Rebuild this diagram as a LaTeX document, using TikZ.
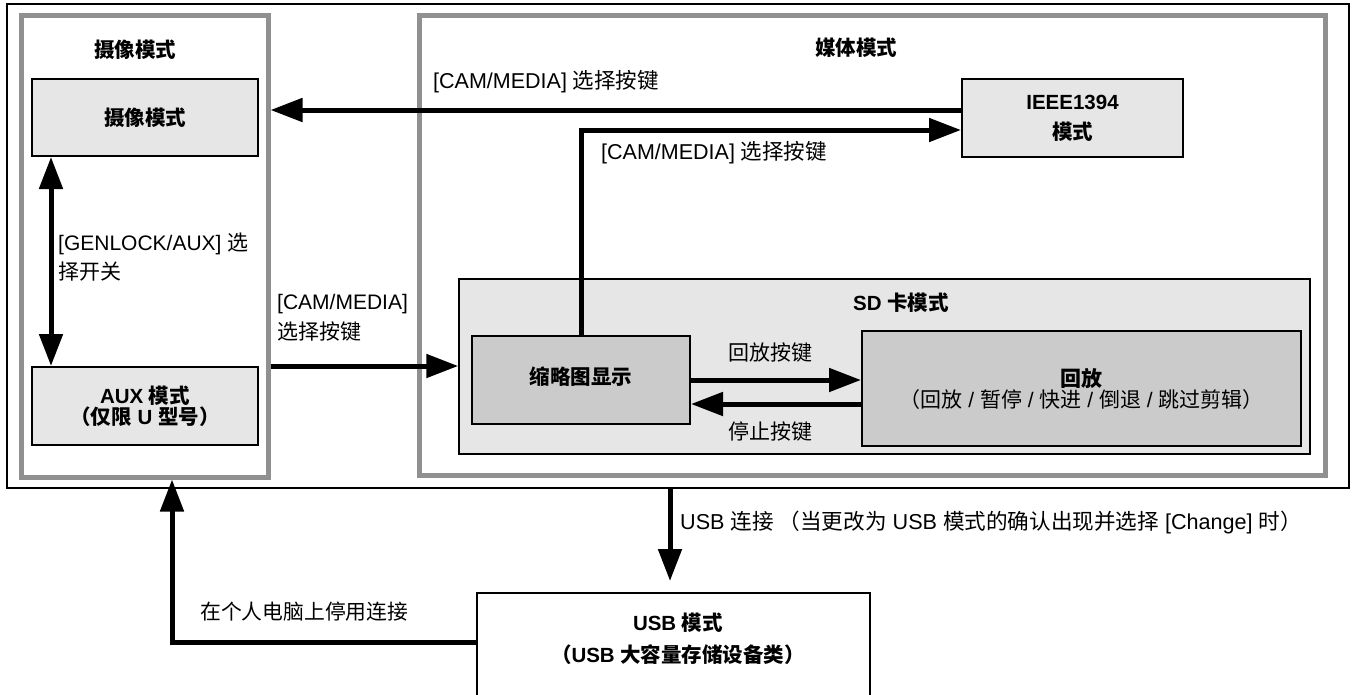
\documentclass[tikz,border=0pt]{standalone}
\usepackage{fontspec}
\setmainfont{Liberation Sans}
\newfontfamily\cjk{Noto Sans CJK SC}
\newcommand\zh[1]{{\cjk #1}}
\usetikzlibrary{arrows.meta,calc}
\definecolor{grp}{HTML}{909090}
\definecolor{boxlight}{HTML}{E6E6E6}
\definecolor{boxdark}{HTML}{CBCBCB}
\tikzset{
  txt/.style={font=\fontsize{21}{29}\selectfont, inner sep=0pt},
  group/.style={draw=grp, line width=5pt, inner sep=0pt},
  modebox/.style={draw=black, line width=2pt, inner sep=0pt, align=center, font=\fontsize{20.5}{29}\selectfont\bfseries},
  arr/.style={line width=5pt, -{Triangle[length=32pt,width=23pt]}},
  darr/.style={line width=5pt, {Triangle[length=32pt,width=23pt]}-{Triangle[length=32pt,width=23pt]}},
}
\begin{document}
\begin{tikzpicture}[x=1pt,y=-1pt]
\useasboundingbox (0,0) rectangle (1355,694);
\clip (0,0) rectangle (1355,694);
\fill[white] (0,0) rectangle (1355,694);

% outer frame and groups
\node[draw=black, line width=2pt, minimum width=1342pt, minimum height=484pt, inner sep=0pt] (outer) at (678,246) {};
\node[group, minimum width=247pt, minimum height=462pt] (leftgrp) at (144.5,246) {};
\node[group, minimum width=906pt, minimum height=460pt] (rightgrp) at (872,245) {};

% titles
\node[txt, font=\fontsize{20.5}{29}\selectfont\bfseries] (t1) at (135,50) {\zh{摄像模式}};
\node[txt, font=\fontsize{20.5}{29}\selectfont\bfseries] (t2) at (856,48) {\zh{媒体模式}};

% mode boxes
\node[modebox, fill=boxlight, minimum width=226pt, minimum height=77pt] (cam) at (145,117.5) {\zh{摄像模式}};
\node[modebox, fill=boxlight, minimum width=226pt, minimum height=78pt, font=\fontsize{20.5}{21}\selectfont\bfseries] (aux) at (145,406) {AUX \zh{模式}\\\zh{（仅限} U \zh{型号）}};
\node[modebox, fill=boxlight, minimum width=221pt, minimum height=78pt, font=\fontsize{20.5}{30}\selectfont\bfseries] (ieee) at (1072.5,118) {IEEE1394\\\zh{模式}};

% SD card group
\node[draw=black, line width=1.5pt, fill=boxlight, minimum width=851pt, minimum height=175pt, inner sep=0pt] (sd) at (884.5,366.5) {};
\node[txt, font=\fontsize{20.5}{29}\selectfont\bfseries] (sdt) at (901,303) {SD \zh{卡模式}};
\node[modebox, fill=boxdark, minimum width=218pt, minimum height=88pt] (thumb) at (581,380) {\raisebox{8pt}{\zh{缩略图显示}}};
\node[modebox, fill=boxdark, minimum width=439pt, minimum height=115pt, font=\fontsize{21}{21}\selectfont] (play) at (1081.5,388.5) {\textbf{\zh{回放}}\\\zh{（回放} / \zh{暂停} / \zh{快进} / \zh{倒退} / \zh{跳过剪辑）}};

% USB box
\node[draw=black, line width=2pt, minimum width=393pt, minimum height=150pt, inner sep=0pt] (usb) at (673.5,668) {};
\node[txt, align=center, font=\fontsize{20.5}{32}\selectfont\bfseries] (usbt) at (678,639) {USB \zh{模式}\\\zh{（}USB \zh{大容量存储设备类）}};

% connectors
\draw[arr] ([yshift=8pt]ieee.west) -- ([yshift=8pt]ieee.west -| leftgrp.east);
\draw[arr] (thumb.north) |- ([yshift=-12pt]ieee.west);
\draw[darr] ([xshift=-94pt]cam.south) -- ([xshift=-94pt]aux.north);
\coordinate (a1) at (aux.north -| sd.west);
\draw[arr] (a1 -| leftgrp.east) -- (a1);
\draw[arr] (thumb.east) -- (thumb.east -| play.west);
\coordinate (a2) at ([yshift=-24pt]thumb.east);
\draw[arr] (a2 -| play.west) -- (a2);
\coordinate (u) at ([xshift=-3.5pt]usb.north);
\draw[arr, shorten >=11pt] (u |- outer.south) -- (u);
\coordinate (lg) at ([xshift=27.5pt]leftgrp.south);
\draw[arr] ([yshift=26pt]usb.west) -| (lg);

% labels
\node[txt, anchor=west, font=\fontsize{21.5}{29}\selectfont] (l1) at (433,82) {[CAM/MEDIA] \zh{选择按键}};
\node[txt, anchor=west, font=\fontsize{21.5}{29}\selectfont] (l2) at (601,153) {[CAM/MEDIA] \zh{选择按键}};
\node[txt, anchor=west, align=left] (l3) at (58,257.5) {[GENLOCK/AUX] \zh{选}\\\zh{择开关}};
\node[txt, anchor=west, align=left, font=\fontsize{21}{30}\selectfont] (l4) at (277,318) {[CAM/MEDIA]\\\zh{选择按键}};
\node[txt] (l5) at (770,353) {\zh{回放按键}};
\node[txt] (l6) at (770,432) {\zh{停止按键}};
\node[txt, anchor=west, font=\fontsize{21.6}{29}\selectfont] (l7) at (680,522) {USB \zh{连接 （当更改为} USB \zh{模式的确认出现并选择} [Change] \zh{时）}};
\node[txt, anchor=west, font=\fontsize{20.8}{29}\selectfont] (l8) at (200,612) {\zh{在个人电脑上停用连接}};
\end{tikzpicture}
\end{document}
